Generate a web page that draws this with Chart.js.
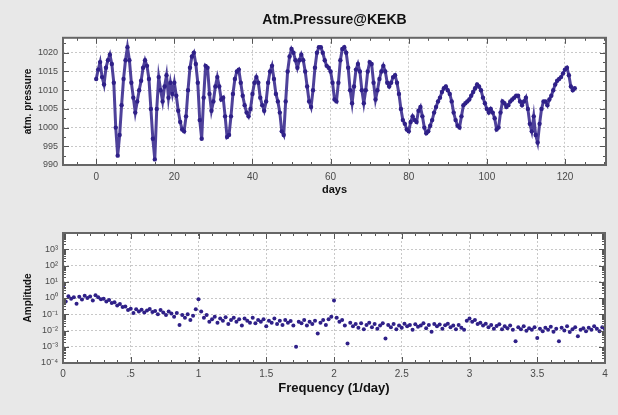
<!DOCTYPE html>
<html>
<head>
<meta charset="utf-8">
<script src="https://cdn.jsdelivr.net/npm/chart.js@4.4.0/dist/chart.umd.min.js"></script>
<style>
  html, body { margin: 0; padding: 0; background: #e8e8e8; }
  #wrap { position: relative; width: 618px; height: 415px; }
  canvas { position: absolute; left: 0; }
  #top { top: 0; }
  #bottom { top: 200px; }
</style>
</head>
<body>
<div id="wrap">
  <canvas id="top" width="618" height="200"></canvas>
  <canvas id="bottom" width="618" height="215"></canvas>
</div>
<script>
// pressure samples, one every half day starting at day 0
const dayStep = 0.5
const pressure = [
  1013, 1015.5, 1017.5, 1013.5, 1011.5, 1016, 1018, 1019.5, 1017, 1012,
  1000, 992.5, 998, 1006, 1013, 1018, 1021.5, 1018, 1012, 1008,
  1004, 1007, 1010, 1012.5, 1016, 1018, 1016.5, 1013, 1005, 997,
  991.5, 1005, 1013.5, 1010, 1007, 1011, 1014, 1008, 1012, 1009,
  1012, 1008.5, 1004.5, 1001.5, 999.5, 999, 1003, 1010, 1016, 1019,
  1020, 1017, 1012, 1002, 997, 1008, 1016.5, 1016, 1009, 1004.5,
  1007, 1011, 1013.5, 1011, 1007.5, 1008, 1003, 997.5, 998, 1003,
  1009, 1013, 1015, 1015.5, 1012, 1008.5, 1006, 1004, 1003, 1005,
  1009, 1012, 1013.5, 1012, 1008, 1006, 1004.5, 1007, 1012, 1015,
  1016.5, 1013, 1009, 1007, 1004, 999, 998, 1007, 1015, 1019,
  1021, 1020, 1018, 1016, 1018, 1019.5, 1018, 1015, 1011, 1007,
  1005.5, 1010, 1016, 1020, 1021.5, 1021.5, 1020, 1018, 1016.5, 1016,
  1015, 1012, 1007.5, 1007, 1012, 1018, 1021, 1021.5, 1020, 1016,
  1010, 1006.5, 1011, 1015.5, 1017, 1015, 1010, 1006.5, 1010, 1015,
  1017.5, 1017, 1012, 1007.5, 1010, 1013, 1015, 1016.5, 1015, 1012,
  1011, 1012, 1013.5, 1014, 1012, 1009, 1005, 1002, 1001, 999.5,
  999, 1001.5, 1003, 1002, 1001.5, 1004.5, 1005.5, 1003, 1000, 998.5,
  999, 1000.5, 1002, 1004, 1005.5, 1007, 1008, 1009.5, 1010.5, 1011,
  1010, 1009, 1007, 1004, 1002, 1000.5, 1000, 1003, 1006, 1006.5,
  1007, 1007.5, 1008.5, 1009.5, 1010.5, 1011.5, 1011, 1010, 1008, 1006.5,
  1005, 1004, 1005, 1004, 1002.5, 999.5, 1000, 1004, 1007, 1006.5,
  1005.5, 1006, 1007, 1007.5, 1008, 1008.5, 1008.5, 1007, 1006, 1007,
  1008, 1005, 1001, 999, 1003, 998, 996, 1001, 1005, 1007,
  1007, 1006, 1007.5, 1008.5, 1010, 1011.5, 1012.5, 1013, 1013.5, 1014.5,
  1015.5, 1016, 1014, 1011, 1010, 1010.5
]
const dayTicks = [0, 20, 40, 60, 80, 100, 120]
const pressureTicks = [990, 995, 1000, 1005, 1010, 1015, 1020]

// amplitude spectrum, one value every 0.02 (1/day) starting at 0
const freqStep = 0.02
const amplitude = [
  4.7, 0.6, 1.3, 0.9, 1.1, 0.45, 1.2, 0.8, 1.4, 1.0,
  1.25, 0.7, 1.5, 1.1, 0.85, 0.9, 0.6, 0.75, 0.5, 0.55,
  0.35, 0.42, 0.28, 0.3, 0.18, 0.22, 0.12, 0.2, 0.15, 0.19,
  0.13, 0.17, 0.21, 0.14, 0.16, 0.1, 0.18, 0.13, 0.09, 0.15,
  0.11, 0.07, 0.12, 0.022, 0.09, 0.06, 0.1, 0.045, 0.08, 0.2,
  0.85, 0.15, 0.06, 0.09, 0.035, 0.05, 0.07, 0.03, 0.055, 0.04,
  0.065, 0.025, 0.045, 0.06, 0.035, 0.05, 0.02, 0.055, 0.04, 0.03,
  0.06, 0.028, 0.045, 0.035, 0.05, 0.018, 0.04, 0.03, 0.055, 0.025,
  0.04, 0.022, 0.045, 0.03, 0.038, 0.02, 0.001, 0.035, 0.028, 0.045,
  0.02, 0.035, 0.025, 0.04, 0.0065, 0.03, 0.045, 0.022, 0.05, 0.07,
  0.7, 0.06, 0.035, 0.045, 0.02, 0.0016, 0.03, 0.018, 0.025, 0.015,
  0.028, 0.012, 0.022, 0.03, 0.016, 0.025, 0.013, 0.02, 0.028, 0.0032,
  0.022, 0.016, 0.025, 0.012, 0.02, 0.015, 0.026, 0.018, 0.022, 0.011,
  0.024, 0.017, 0.02, 0.028, 0.014, 0.022, 0.0085, 0.025, 0.018, 0.023,
  0.013, 0.021, 0.026, 0.016, 0.02, 0.012, 0.022, 0.015, 0.011, 0.04,
  0.055, 0.035, 0.045, 0.025, 0.03, 0.02, 0.026, 0.016, 0.022, 0.013,
  0.019, 0.024, 0.012, 0.018, 0.014, 0.02, 0.011, 0.0022, 0.016, 0.012,
  0.018, 0.0095, 0.014, 0.011, 0.016, 0.0035, 0.013, 0.009, 0.015, 0.011,
  0.017, 0.0085, 0.013, 0.0022, 0.015, 0.01, 0.018, 0.008, 0.012, 0.016,
  0.0045, 0.011, 0.014, 0.009, 0.015, 0.011, 0.018, 0.013, 0.009, 0.016,
  0.012
]
const freqTicks = [0, 0.5, 1, 1.5, 2, 2.5, 3, 3.5, 4]
const freqLabels = ['0', '.5', '1', '1.5', '2', '2.5', '3', '3.5', '4']
const ampTicks = [1e-4, 1e-3, 1e-2, 1e-1, 1, 1e1, 1e2, 1e3]
const ampLabels = ['10\u207B\u2074', '10\u207B\u00B3', '10\u207B\u00B2', '10\u207B\u00B9', '10\u2070', '10\u00B9', '10\u00B2', '10\u00B3']

const pointColor = '#2f2088'
const tickColor = '#4a4a4a'

// white plot area, frame with little tick marks inside
const frameTicks = {
  id: 'frameTicks',
  beforeDraw(chart) {
    const { ctx, chartArea: a } = chart
    ctx.save()
    ctx.fillStyle = '#fff'
    ctx.fillRect(a.left, a.top, a.right - a.left, a.bottom - a.top)
    ctx.restore()
  },
  afterDatasetsDraw(chart, args, opts) {
    const { ctx, chartArea: a, scales } = chart
    ctx.save()
    ctx.strokeStyle = '#555'
    ctx.lineWidth = 1
    const mark = (scale, values, len) => {
      values.forEach((v) => {
        const p = Math.round(scale.getPixelForValue(v)) + 0.5
        ctx.beginPath()
        if (scale.isHorizontal()) {
          if (p < a.left || p > a.right) return
          ctx.moveTo(p, a.bottom)
          ctx.lineTo(p, a.bottom - len)
          ctx.moveTo(p, a.top)
          ctx.lineTo(p, a.top + len)
        } else {
          if (p < a.top || p > a.bottom) return
          ctx.moveTo(a.left, p)
          ctx.lineTo(a.left + len, p)
          ctx.moveTo(a.right, p)
          ctx.lineTo(a.right - len, p)
        }
        ctx.stroke()
      })
    }
    mark(scales.x, opts.xMajor, 6)
    mark(scales.x, opts.xMinor, 3)
    mark(scales.y, opts.yMajor, 6)
    mark(scales.y, opts.yMinor, 3)
    ctx.lineWidth = 2
    ctx.strokeStyle = '#666'
    ctx.strokeRect(a.left, a.top, a.right - a.left, a.bottom - a.top)
    ctx.restore()
  },
}

const dayMinor = []
for (let d = -5; d <= 130; d += 5) dayMinor.push(d)
const pressureMinor = []
for (let p = 990; p <= 1024; p += 2.5) pressureMinor.push(p)
const freqMinor = []
for (let f = 0; f <= 4.001; f += 0.1) freqMinor.push(f)
const ampMinor = []
ampTicks.forEach((t) => {
  for (let k = 2; k <= 9; k++) ampMinor.push(t * k)
})

const pressurePoints = pressure.map((v, i) => ({ x: i * dayStep, y: v }))
const amplitudePoints = amplitude.map((v, i) => ({ x: i * freqStep, y: v }))

Chart.defaults.font.family = 'Arial, "Liberation Sans", sans-serif'
Chart.defaults.animation = false

new Chart(document.getElementById('top'), {
  type: 'scatter',
  data: {
    datasets: [
      {
        data: pressurePoints,
        showLine: true,
        borderColor: 'rgba(47, 32, 136, 0.85)',
        borderWidth: 3,
        pointRadius: 2.2,
        pointBorderWidth: 0,
        pointBackgroundColor: pointColor,
      },
    ],
  },
  options: {
    responsive: false,
    devicePixelRatio: 1,
    layout: { padding: { left: 0, right: 12, top: 0, bottom: 0 } },
    plugins: {
      legend: { display: false },
      tooltip: { enabled: false },
      title: {
        display: true,
        fullSize: false,
        text: 'Atm.Pressure@KEKB',
        color: '#111',
        font: { size: 14, weight: 'bold' },
        padding: { top: 12, bottom: 9 },
      },
      frameTicks: {
        xMajor: dayTicks,
        xMinor: dayMinor,
        yMajor: pressureTicks,
        yMinor: pressureMinor,
      },
    },
    scales: {
      x: {
        type: 'linear',
        min: -8.5,
        max: 130.5,
        afterFit: (s) => { s.height = 35 },
        afterBuildTicks: (s) => { s.ticks = dayTicks.map((v) => ({ value: v })) },
        grid: { color: '#c8c8c8', drawTicks: false },
        border: { display: false, dash: [2, 2] },
        ticks: {
          color: tickColor,
          font: { size: 10 },
          padding: 6,
          maxRotation: 0,
          callback: (v, i) => String(dayTicks[i]),
        },
        title: {
          display: true,
          text: 'days',
          color: '#111',
          font: { size: 11, weight: 'bold' },
          padding: { top: 0, bottom: 3 },
        },
      },
      y: {
        min: 990,
        max: 1024,
        afterFit: (s) => { s.width = 63 },
        afterBuildTicks: (s) => { s.ticks = pressureTicks.map((v) => ({ value: v })) },
        grid: { color: '#c8c8c8', drawTicks: false },
        border: { display: false, dash: [2, 2] },
        ticks: {
          color: tickColor,
          font: { size: 9 },
          padding: 5,
          callback: (v, i) => String(pressureTicks[i]),
        },
        title: {
          display: true,
          text: 'atm. pressure',
          color: '#111',
          font: { size: 10, weight: 'bold' },
          padding: { top: 22, bottom: 0 },
        },
      },
    },
  },
  plugins: [frameTicks],
})

new Chart(document.getElementById('bottom'), {
  type: 'scatter',
  data: {
    datasets: [
      {
        data: amplitudePoints,
        pointRadius: 2,
        pointBorderWidth: 0,
        pointBackgroundColor: pointColor,
      },
    ],
  },
  options: {
    responsive: false,
    devicePixelRatio: 1,
    layout: { padding: { left: 0, right: 13, top: 33, bottom: 0 } },
    plugins: {
      legend: { display: false },
      tooltip: { enabled: false },
      frameTicks: {
        xMajor: freqTicks,
        xMinor: freqMinor,
        yMajor: ampTicks,
        yMinor: ampMinor,
      },
    },
    scales: {
      x: {
        type: 'linear',
        min: 0,
        max: 4,
        afterFit: (s) => { s.height = 52 },
        afterBuildTicks: (s) => { s.ticks = freqTicks.map((v) => ({ value: v })) },
        grid: { color: '#c8c8c8', drawTicks: false },
        border: { display: false, dash: [2, 2] },
        ticks: {
          color: tickColor,
          font: { size: 10 },
          padding: 5,
          maxRotation: 0,
          autoSkip: false,
          callback: (v, i) => freqLabels[i],
        },
        title: {
          display: true,
          text: 'Frequency (1/day)',
          color: '#111',
          font: { size: 13, weight: 'bold' },
          padding: { top: 0, bottom: 19 },
        },
      },
      y: {
        type: 'logarithmic',
        min: 1e-4,
        max: 1e4,
        afterFit: (s) => { s.width = 63 },
        afterBuildTicks: (s) => { s.ticks = ampTicks.map((v) => ({ value: v })) },
        grid: { color: '#c8c8c8', drawTicks: false },
        border: { display: false, dash: [2, 2] },
        ticks: {
          color: tickColor,
          font: { size: 9 },
          padding: 5,
          autoSkip: false,
          callback: (v, i) => ampLabels[i],
        },
        title: {
          display: true,
          text: 'Amplitude',
          color: '#111',
          font: { size: 10, weight: 'bold' },
          padding: { top: 22, bottom: 0 },
        },
      },
    },
  },
  plugins: [frameTicks],
})
</script>
</body>
</html>
